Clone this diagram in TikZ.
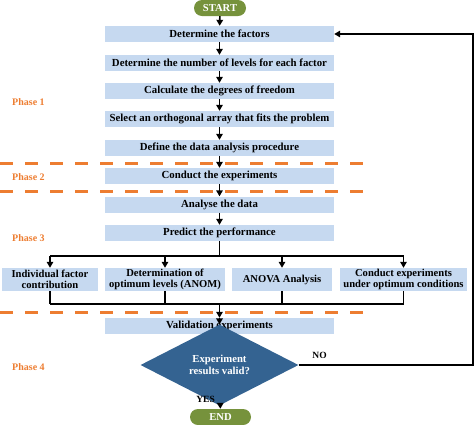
\documentclass[tikz,border=0pt]{standalone}
\usepackage{fontspec}
\setmainfont{Liberation Serif}
\usetikzlibrary{arrows.meta,shapes.geometric,shapes.misc}
\definecolor{boxblue}{RGB}{198,217,240}
\definecolor{pillgreen}{RGB}{118,146,60}
\definecolor{diablue}{RGB}{52,99,145}
\definecolor{phaseorange}{RGB}{237,125,49}
\tikzset{
  stepbox/.style={rectangle,fill=boxblue,minimum width=229pt,minimum height=16pt,inner sep=0pt,font=\bfseries\fontsize{10.8}{11}\selectfont},
  rowbox/.style={rectangle,fill=boxblue,minimum height=23pt,inner sep=0pt,align=center,font=\bfseries\fontsize{10.6}{10.6}\selectfont},
  pill/.style={rounded rectangle,fill=pillgreen,text=white,minimum height=16pt,inner sep=0pt,font=\bfseries\fontsize{10.6}{11}\selectfont},
  arr/.style={line width=1.6pt,-{Triangle[width=6.5pt,length=6pt]}},
  ln/.style={line width=1.6pt},
  phasedash/.style={phaseorange,line width=3pt,dash pattern=on 13pt off 12pt},
  phaselbl/.style={text=phaseorange,font=\bfseries\fontsize{10}{11}\selectfont,anchor=west,inner sep=0pt},
  lbl/.style={font=\bfseries\fontsize{9.5}{10}\selectfont,inner sep=0pt}
}
\begin{document}
\begin{tikzpicture}[x=1pt,y=-1pt]
\useasboundingbox (0,0) rectangle (474,424);
% dashed phase separators
\draw[phasedash] (0,163) -- (363,163);
\draw[phasedash] (0,191) -- (363,191);
\draw[phasedash] (0,312) -- (363,312);
% phase labels
\node[phaselbl] (p1) at (12,102) {Phase 1};
\node[phaselbl] (p2) at (12,177) {Phase 2};
\node[phaselbl] (p3) at (12,238) {Phase 3};
\node[phaselbl] (p4) at (12,367) {Phase 4};
% nodes
\node[pill,minimum width=52pt] (start) at (220,8) {START};
\node[stepbox] (b1) at (219.5,34) {Determine the factors};
\node[stepbox] (b2) at (219.5,63) {Determine the number of levels for each factor};
\node[stepbox] (b3) at (219.5,91) {Calculate the degrees of freedom};
\node[stepbox] (b4) at (219.5,119) {Select an orthogonal array that fits the problem};
\node[stepbox] (b5) at (219.5,148) {Define the data analysis procedure};
\node[stepbox] (b6) at (219.5,176) {Conduct the experiments};
\node[stepbox] (b7) at (219.5,204.5) {Analyse the data};
\node[stepbox] (b8) at (219.5,233) {Predict the performance};
\node[rowbox,minimum width=96pt] (ra) at (50,279.5) {Individual factor\\contribution};
\node[rowbox,minimum width=120pt] (rb) at (165,279.5) {Determination of\\optimum levels (ANOM)};
\node[rowbox,minimum width=100pt] (rc) at (282,279.5) {ANOVA Analysis};
\node[rowbox,minimum width=127pt] (rd) at (403.5,279.5) {Conduct experiments\\under optimum conditions};
\node[stepbox] (val) at (219.5,326) {Validation experiments};
\node[diamond,fill=diablue,text=white,minimum width=158pt,minimum height=46pt,inner sep=0pt,align=center,font=\bfseries\fontsize{10.7}{12.5}\selectfont] (dec) at (219.5,365) {Experiment\\results valid?};
\node[pill,minimum width=61pt] (end) at (220.5,417) {END};
\node[lbl,anchor=east] (yes) at (215,399) {YES};
% coordinates
\coordinate (split) at (219.5,256);
\coordinate (join) at (219.5,304);
\coordinate (nor) at (473,365);
\coordinate (nou) at (473,34);
% arrows
\draw[arr] (start) -- (b1);
\draw[arr] (b1) -- (b2);
\draw[arr] (b2) -- (b3);
\draw[arr] (b3) -- (b4);
\draw[arr] (b4) -- (b5);
\draw[arr] (b5) -- (b6);
\draw[arr] (b6) -- (b7);
\draw[arr] (b7) -- (b8);
\draw[ln] (b8) -- (split);
\draw[ln] (ra.north |- split) -- (rd.north |- split);
\draw[arr] (ra.north |- split) -- (ra);
\draw[arr] (rb.north |- split) -- (rb);
\draw[arr] (rc.north |- split) -- (rc);
\draw[arr] (rd.north |- split) -- (rd);
\draw[ln] (ra) -- (ra.south |- join);
\draw[ln] (rb) -- (rb.south |- join);
\draw[ln] (rc) -- (rc.south |- join);
\draw[ln] (rd) -- (rd.south |- join);
\draw[ln] (ra.south |- join) -- (rd.south |- join);
\draw[arr] (join) -- (val);
\draw[arr] (val) -- (dec);
\draw[arr] (dec) -- (end);
\draw[arr] (dec.east) -- node[lbl,above=6pt,pos=0.12] (no) {NO} (nor) -- (nou) -- (b1.east);
\end{tikzpicture}
\end{document}
